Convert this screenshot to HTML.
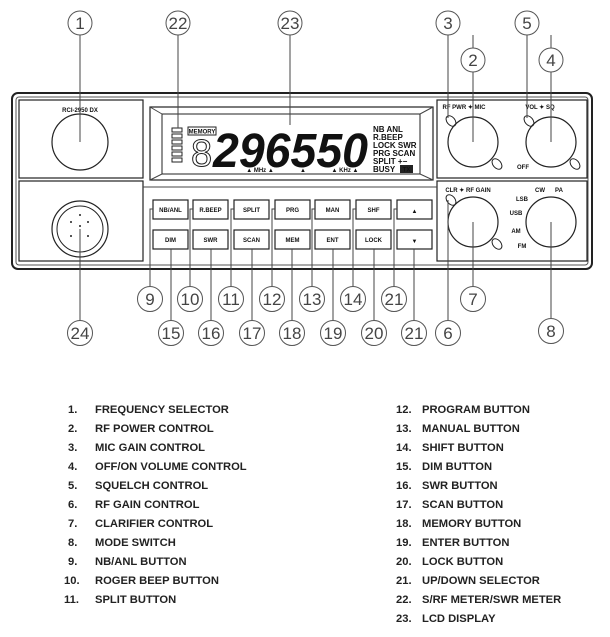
<!DOCTYPE html>
<html><head><style>
body{margin:0;background:#fff;width:610px;height:637px;overflow:hidden}
svg{display:block}
.c{fill:#fff;stroke:#555;stroke-width:1}
.n{font-family:"Liberation Sans",sans-serif;font-size:17px;fill:#444;text-anchor:middle}
.b{fill:#fff;stroke:#222;stroke-width:1.2}
.bt{font-family:"Liberation Sans",sans-serif;font-size:6px;font-weight:bold;text-anchor:middle;fill:#111}
.l{stroke:#444;stroke-width:1;fill:none}
.lg{font-family:"Liberation Sans",sans-serif;font-size:11.2px;font-weight:bold;fill:#222}
</style></head><body>
<svg width="610" height="637" viewBox="0 0 610 637">
<rect x="12" y="93" width="580" height="176" rx="6" fill="#fff" stroke="#222" stroke-width="2"/>
<rect x="16" y="97" width="572" height="168" rx="3" fill="none" stroke="#555" stroke-width="1"/>
<rect x="19" y="100" width="124" height="78" fill="none" stroke="#222" stroke-width="1.2"/>
<rect x="19" y="181" width="124" height="80" fill="none" stroke="#222" stroke-width="1.2"/>
<rect x="437" y="100" width="150" height="78" fill="none" stroke="#222" stroke-width="1.2"/>
<rect x="437" y="181" width="150" height="80" fill="none" stroke="#222" stroke-width="1.2"/>
<line x1="143" y1="187" x2="437" y2="187" class="l"/>
<text x="80" y="112" class="bt" font-size="7">RCI-2950 DX</text>
<circle cx="80" cy="142" r="28" fill="#fff" stroke="#222" stroke-width="1.2"/>
<circle cx="80" cy="229" r="28" fill="#fff" stroke="#222" stroke-width="1.2"/>
<circle cx="80" cy="229" r="23" fill="none" stroke="#222"/>
<g fill="#222"><circle cx="71" cy="222" r="1"/><circle cx="88" cy="222" r="1"/><circle cx="71" cy="236" r="1"/><circle cx="88" cy="236" r="1"/><circle cx="80" cy="226" r="1"/><circle cx="80" cy="215" r="1"/></g>
<rect x="150" y="107" width="283" height="73" fill="none" stroke="#222" stroke-width="1.2"/>
<rect x="162" y="114" width="258" height="60" fill="none" stroke="#222"/>
<line x1="150" y1="107" x2="162" y2="114" class="l"/><line x1="433" y1="107" x2="420" y2="114" class="l"/>
<line x1="150" y1="180" x2="162" y2="174" class="l"/><line x1="433" y1="180" x2="420" y2="174" class="l"/>
<g fill="#fff" stroke="#222"><rect x="172" y="128" width="10" height="4"/><rect x="172" y="134" width="10" height="4"/><rect x="172" y="140" width="10" height="4"/><rect x="172" y="146" width="10" height="4"/><rect x="172" y="152" width="10" height="4"/><rect x="172" y="158" width="10" height="4"/></g>
<rect x="188" y="127" width="28" height="8" fill="#fff" stroke="#222"/>
<text x="202" y="133.5" class="bt">MEMORY</text>
<text x="191" y="166" font-family="Liberation Sans" font-size="38" fill="none" stroke="#222">8</text>
<text x="213" y="167" font-family="Liberation Sans" font-size="48" font-weight="bold" font-style="italic" fill="#111" textLength="155" lengthAdjust="spacingAndGlyphs">296550</text>
<text x="373" y="132" font-family="Liberation Sans" font-size="8" font-weight="bold" fill="#111">NB ANL</text>
<text x="373" y="140" font-family="Liberation Sans" font-size="8" font-weight="bold" fill="#111">R.BEEP</text>
<text x="373" y="148" font-family="Liberation Sans" font-size="8" font-weight="bold" fill="#111">LOCK SWR</text>
<text x="373" y="156" font-family="Liberation Sans" font-size="8" font-weight="bold" fill="#111">PRG SCAN</text>
<text x="373" y="164" font-family="Liberation Sans" font-size="8" font-weight="bold" fill="#111">SPLIT +−</text>
<text x="373" y="172" font-family="Liberation Sans" font-size="8" font-weight="bold" fill="#111">BUSY</text>
<rect x="400" y="165" width="13" height="8" fill="#222"/><text x="406.5" y="171.5" class="bt" fill="#fff">TX</text>
<text x="260" y="172" class="bt">▲ MHz ▲</text><text x="303" y="172" class="bt">▲</text><text x="345" y="172" class="bt">▲ KHz ▲</text>
<g>
<rect x="153" y="200" width="35" height="19" class="b"/><text x="170.5" y="212" class="bt">NB/ANL</text>
<rect x="193" y="200" width="35" height="19" class="b"/><text x="210.5" y="212" class="bt">R.BEEP</text>
<rect x="234" y="200" width="35" height="19" class="b"/><text x="251.5" y="212" class="bt">SPLIT</text>
<rect x="275" y="200" width="35" height="19" class="b"/><text x="292.5" y="212" class="bt">PRG</text>
<rect x="315" y="200" width="35" height="19" class="b"/><text x="332.5" y="212" class="bt">MAN</text>
<rect x="356" y="200" width="35" height="19" class="b"/><text x="373.5" y="212" class="bt">SHF</text>
<rect x="397" y="200" width="35" height="19" class="b"/><text x="414.5" y="213" class="bt" font-size="9">▲</text>
<rect x="153" y="230" width="35" height="19" class="b"/><text x="170.5" y="242" class="bt">DIM</text>
<rect x="193" y="230" width="35" height="19" class="b"/><text x="210.5" y="242" class="bt">SWR</text>
<rect x="234" y="230" width="35" height="19" class="b"/><text x="251.5" y="242" class="bt">SCAN</text>
<rect x="275" y="230" width="35" height="19" class="b"/><text x="292.5" y="242" class="bt">MEM</text>
<rect x="315" y="230" width="35" height="19" class="b"/><text x="332.5" y="242" class="bt">ENT</text>
<rect x="356" y="230" width="35" height="19" class="b"/><text x="373.5" y="242" class="bt">LOCK</text>
<rect x="397" y="230" width="35" height="19" class="b"/><text x="414.5" y="243" class="bt" font-size="9">▼</text>
</g>
<g fill="#fff" stroke="#222" stroke-width="1.2">
<circle cx="473" cy="142" r="25"/><circle cx="551" cy="142" r="25"/>
<circle cx="473" cy="222" r="25"/><circle cx="551" cy="222" r="25"/>
</g>
<g fill="none" stroke="#222"><ellipse cx="451" cy="121" rx="4" ry="6" transform="rotate(-40 451 121)"/><ellipse cx="497" cy="164" rx="4" ry="6" transform="rotate(-40 497 164)"/><ellipse cx="529" cy="121" rx="4" ry="6" transform="rotate(-40 529 121)"/><ellipse cx="575" cy="164" rx="4" ry="6" transform="rotate(-40 575 164)"/><ellipse cx="451" cy="200" rx="4" ry="6" transform="rotate(-40 451 200)"/><ellipse cx="497" cy="244" rx="4" ry="6" transform="rotate(-40 497 244)"/></g>
<text x="464" y="109" class="bt">RF PWR ✦ MIC</text>
<text x="540" y="109" class="bt">VOL ✦ SQ</text>
<text x="523" y="169" class="bt">OFF</text>
<text x="468" y="192" class="bt">CLR ✦ RF GAIN</text>
<text x="540" y="192" class="bt">CW</text><text x="559" y="192" class="bt">PA</text>
<text x="522" y="201" class="bt">LSB</text><text x="516" y="215" class="bt">USB</text><text x="516" y="233" class="bt">AM</text><text x="522" y="248" class="bt">FM</text>
<g class="l">
<line x1="80" y1="35" x2="80" y2="142"/><line x1="178" y1="35" x2="178" y2="128"/><line x1="290" y1="35" x2="290" y2="125"/>
<line x1="448" y1="35" x2="448" y2="118"/><line x1="473" y1="35" x2="473" y2="142"/><line x1="527" y1="35" x2="527" y2="118"/><line x1="551" y1="35" x2="551" y2="142"/>
<line x1="80" y1="229" x2="80" y2="321"/>
<polyline points="153,209 150,209 150,286"/><polyline points="193,209 190,209 190,286"/><polyline points="234,209 231,209 231,286"/><polyline points="275,209 272,209 272,286"/><polyline points="315,209 312,209 312,286"/><polyline points="356,209 353,209 353,286"/><polyline points="397,209 394,209 394,286"/>
<line x1="171" y1="249" x2="171" y2="320"/><line x1="211" y1="249" x2="211" y2="320"/><line x1="252" y1="249" x2="252" y2="320"/><line x1="292" y1="249" x2="292" y2="320"/><line x1="333" y1="249" x2="333" y2="320"/><line x1="374" y1="249" x2="374" y2="320"/><line x1="414" y1="249" x2="414" y2="320"/>
<line x1="448" y1="200" x2="448" y2="320"/><line x1="473" y1="222" x2="473" y2="286"/><line x1="551" y1="222" x2="551" y2="318"/>
</g>
<g>
<circle cx="80" cy="23" r="12" class="c"/><text x="80" y="29" class="n">1</text>
<circle cx="178" cy="23" r="12" class="c"/><text x="178" y="29" class="n">22</text>
<circle cx="290" cy="23" r="12" class="c"/><text x="290" y="29" class="n">23</text>
<circle cx="448" cy="23" r="12" class="c"/><text x="448" y="29" class="n">3</text>
<circle cx="473" cy="60" r="12" class="c"/><text x="473" y="66" class="n">2</text>
<circle cx="527" cy="23" r="12" class="c"/><text x="527" y="29" class="n">5</text>
<circle cx="551" cy="60" r="12" class="c"/><text x="551" y="66" class="n">4</text>
<circle cx="150" cy="299" r="12.5" class="c"/><text x="150" y="305" class="n">9</text>
<circle cx="190" cy="299" r="12.5" class="c"/><text x="190" y="305" class="n">10</text>
<circle cx="231" cy="299" r="12.5" class="c"/><text x="231" y="305" class="n">11</text>
<circle cx="272" cy="299" r="12.5" class="c"/><text x="272" y="305" class="n">12</text>
<circle cx="312" cy="299" r="12.5" class="c"/><text x="312" y="305" class="n">13</text>
<circle cx="353" cy="299" r="12.5" class="c"/><text x="353" y="305" class="n">14</text>
<circle cx="394" cy="299" r="12.5" class="c"/><text x="394" y="305" class="n">21</text>
<circle cx="473" cy="299" r="12.5" class="c"/><text x="473" y="305" class="n">7</text>
<circle cx="80" cy="333" r="12.5" class="c"/><text x="80" y="339" class="n">24</text>
<circle cx="171" cy="333" r="12.5" class="c"/><text x="171" y="339" class="n">15</text>
<circle cx="211" cy="333" r="12.5" class="c"/><text x="211" y="339" class="n">16</text>
<circle cx="252" cy="333" r="12.5" class="c"/><text x="252" y="339" class="n">17</text>
<circle cx="292" cy="333" r="12.5" class="c"/><text x="292" y="339" class="n">18</text>
<circle cx="333" cy="333" r="12.5" class="c"/><text x="333" y="339" class="n">19</text>
<circle cx="374" cy="333" r="12.5" class="c"/><text x="374" y="339" class="n">20</text>
<circle cx="414" cy="333" r="12.5" class="c"/><text x="414" y="339" class="n">21</text>
<circle cx="448" cy="333" r="12.5" class="c"/><text x="448" y="339" class="n">6</text>
<circle cx="551" cy="331" r="12.5" class="c"/><text x="551" y="337" class="n">8</text>
</g>
<g class="lg">
<text x="68" y="413">1.</text><text x="95" y="413">FREQUENCY SELECTOR</text>
<text x="68" y="432">2.</text><text x="95" y="432">RF POWER CONTROL</text>
<text x="68" y="451">3.</text><text x="95" y="451">MIC GAIN CONTROL</text>
<text x="68" y="470">4.</text><text x="95" y="470">OFF/ON VOLUME CONTROL</text>
<text x="68" y="489">5.</text><text x="95" y="489">SQUELCH CONTROL</text>
<text x="68" y="508">6.</text><text x="95" y="508">RF GAIN CONTROL</text>
<text x="68" y="527">7.</text><text x="95" y="527">CLARIFIER CONTROL</text>
<text x="68" y="546">8.</text><text x="95" y="546">MODE SWITCH</text>
<text x="68" y="565">9.</text><text x="95" y="565">NB/ANL BUTTON</text>
<text x="64" y="584">10.</text><text x="95" y="584">ROGER BEEP BUTTON</text>
<text x="64" y="603">11.</text><text x="95" y="603">SPLIT BUTTON</text>
<text x="396" y="413">12.</text><text x="422" y="413">PROGRAM BUTTON</text>
<text x="396" y="432">13.</text><text x="422" y="432">MANUAL BUTTON</text>
<text x="396" y="451">14.</text><text x="422" y="451">SHIFT BUTTON</text>
<text x="396" y="470">15.</text><text x="422" y="470">DIM BUTTON</text>
<text x="396" y="489">16.</text><text x="422" y="489">SWR BUTTON</text>
<text x="396" y="508">17.</text><text x="422" y="508">SCAN BUTTON</text>
<text x="396" y="527">18.</text><text x="422" y="527">MEMORY BUTTON</text>
<text x="396" y="546">19.</text><text x="422" y="546">ENTER BUTTON</text>
<text x="396" y="565">20.</text><text x="422" y="565">LOCK BUTTON</text>
<text x="396" y="584">21.</text><text x="422" y="584">UP/DOWN SELECTOR</text>
<text x="396" y="603">22.</text><text x="422" y="603">S/RF METER/SWR METER</text>
<text x="396" y="622">23.</text><text x="422" y="622">LCD DISPLAY</text>
</g>
</svg>
</body></html>
